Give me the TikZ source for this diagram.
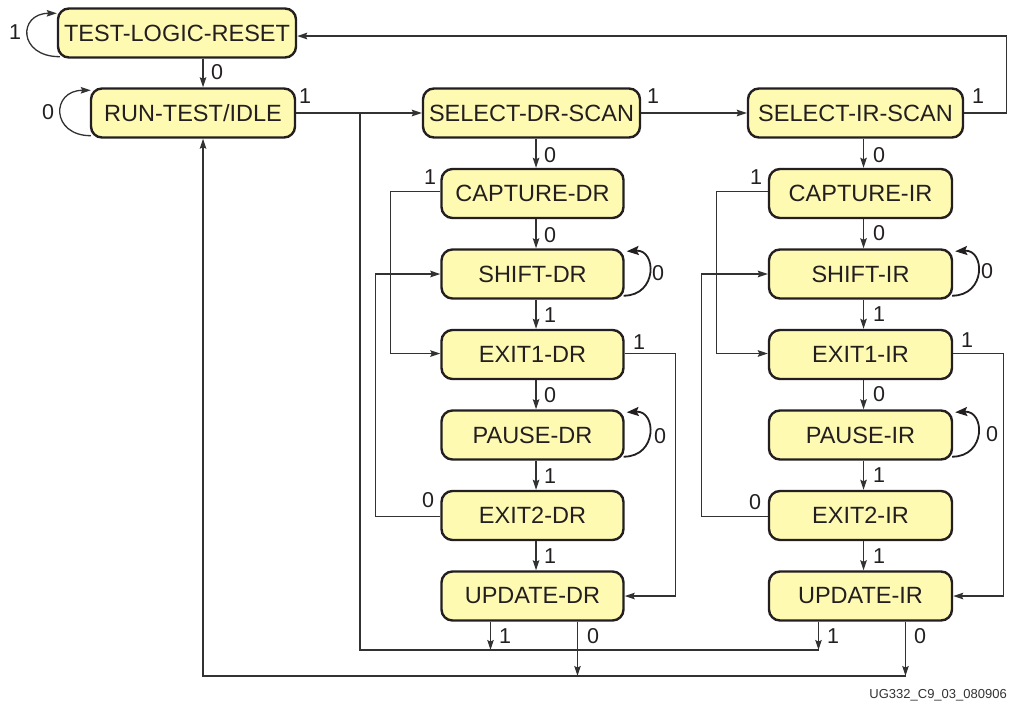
\documentclass[tikz,border=0pt]{standalone}
\usepackage{fontspec}
\setmainfont{Liberation Sans}
\usetikzlibrary{arrows.meta}
\definecolor{boxfill}{RGB}{255,250,178}
\definecolor{ink}{RGB}{35,31,32}
\definecolor{wirec}{RGB}{50,50,50}
\begin{document}
\begin{tikzpicture}[x=1pt,y=-1pt,
 state/.style={draw=ink, line width=2.4pt, fill=boxfill, rounded corners=11pt, minimum height=49pt, inner sep=0pt, font=\fontsize{23.5}{27}\selectfont, text=ink},
 wire/.style={draw=wirec, line width=1.3pt},
 arr/.style={wire, -{Stealth[length=10pt,width=6.5pt,inset=1.5pt]}},
 looparr/.style={draw=ink, line width=1.8pt, -{Stealth[length=12pt,width=9pt,inset=2pt]}},
 lbl/.style={font=\fontsize{21.5}{24}\selectfont, text=ink, inner sep=0pt},
]
\useasboundingbox (0,0) rectangle (1010,704);

% states
\node[state, minimum width=238pt] (TLR) at (177,33) {TEST-LOGIC-RESET};
\node[state, minimum width=204pt] (RTI) at (193,113) {RUN-TEST/IDLE};
\node[state, minimum width=217pt] (SDR) at (531.5,113) {SELECT-DR-SCAN};
\node[state, minimum width=215pt] (SIR) at (855.5,113) {SELECT-IR-SCAN};

\node[state, minimum width=182pt] (CDR)  at (532.5,193.5) {CAPTURE-DR};
\node[state, minimum width=182pt] (SHDR) at (532.5,274)   {SHIFT-DR};
\node[state, minimum width=182pt] (E1DR) at (532.5,354.5) {EXIT1-DR};
\node[state, minimum width=182pt] (PDR)  at (532.5,435)   {PAUSE-DR};
\node[state, minimum width=182pt] (E2DR) at (532.5,515.5) {EXIT2-DR};
\node[state, minimum width=182pt] (UDR)  at (532.5,596)   {UPDATE-DR};

\node[state, minimum width=183pt] (CIR)  at (860.5,193.5) {CAPTURE-IR};
\node[state, minimum width=183pt] (SHIR) at (860.5,274)   {SHIFT-IR};
\node[state, minimum width=183pt] (E1IR) at (860.5,354.5) {EXIT1-IR};
\node[state, minimum width=183pt] (PIR)  at (860.5,435)   {PAUSE-IR};
\node[state, minimum width=183pt] (E2IR) at (860.5,515.5) {EXIT2-IR};
\node[state, minimum width=183pt] (UIR)  at (860.5,596)   {UPDATE-IR};

% self loops on the left
\draw[arr] ([xshift=3pt,yshift=2pt]TLR.south west) .. controls +(-42,0) and +(-39,0) .. ([yshift=-6pt]TLR.north west);
\draw[arr] ([xshift=1pt,yshift=3pt]RTI.south west) .. controls +(-40,0) and +(-40,0) .. ([xshift=1pt,yshift=-3pt]RTI.north west);

% self loops on the right
\foreach \n in {SHDR,PDR,SHIR,PIR}{
  \draw[looparr] ([xshift=-1pt,yshift=4pt]\n.south east) .. controls +(34,0) and +(30,-2) .. ([xshift=2pt,yshift=-3pt]\n.north east);
}

% top connections
\draw[arr] ([xshift=26pt]TLR.south) -- ([xshift=26pt]TLR.south |- RTI.north);
\draw[arr] (RTI.east) -- (SDR.west);
\draw[arr] (SDR.east) -- (SIR.west);
\draw[arr] (SIR.east) -- ++(42,0) |- ([yshift=-3pt]TLR.east);

% column arrows
\draw[arr] ([xshift=3.5pt]CDR.north |- SDR.south) -- ([xshift=3.5pt]CDR.north);
\draw[arr] ([xshift=3pt]CIR.north |- SIR.south) -- ([xshift=3pt]CIR.north);
\foreach \a/\b in {CDR/SHDR,SHDR/E1DR,E1DR/PDR,PDR/E2DR,E2DR/UDR}{
  \draw[arr] ([xshift=3.5pt]\a.south) -- ([xshift=3.5pt]\b.north);
}
\foreach \a/\b in {CIR/SHIR,SHIR/E1IR,E1IR/PIR,PIR/E2IR,E2IR/UIR}{
  \draw[arr] ([xshift=3pt]\a.south) -- ([xshift=3pt]\b.north);
}

% side connections
\draw[arr] ([yshift=2pt]CDR.west) -- ++(-50,0) |- ([yshift=1pt]E1DR.west);
\draw[arr] ([yshift=-1pt]E2DR.west) -- ++(-65,0) |- (SHDR.west);
\draw[arr] ([yshift=1pt]E1DR.east) -- ++(51,0) |- (UDR.east);
\draw[arr] ([yshift=2pt]CIR.west) -- ++(-51,0) |- ([yshift=1pt]E1IR.west);
\draw[arr] ([yshift=-1pt]E2IR.west) -- ++(-66,0) |- (SHIR.west);
\draw[arr] ([yshift=1pt]E1IR.east) -- ++(50,0) |- (UIR.east);

% return buses
\coordinate (j1) at (360,113);
\coordinate (b1) at (360,650);
\coordinate (b0) at (203,676);
\draw[wire] (j1) -- (b1) -- ([xshift=-42pt]UIR.south |- b1);
\draw[arr] ([xshift=-42pt]UDR.south) -- ([xshift=-42pt]UDR.south |- b1);
\draw[arr] ([xshift=-42pt]UIR.south) -- ([xshift=-42pt]UIR.south |- b1);
\draw[arr] ([xshift=45pt]UDR.south) -- ([xshift=45pt]UDR.south |- b0);
\draw[arr] ([xshift=45pt]UIR.south) -- ([xshift=45pt]UIR.south |- b0);
\draw[arr] ([xshift=45pt]UIR.south |- b0) -- (b0) -- (b0 |- RTI.south);

% labels
\node[lbl] (l1) at (15,32) {1};
\node[lbl] (l2) at (48,112) {0};
\node[lbl] (l3) at (217,72) {0};
\node[lbl] (l4) at (305,96) {1};
\node[lbl] (l5) at (653,96) {1};
\node[lbl] (l6) at (978,96) {1};

\node[lbl] at (550,155) {0};
\node[lbl] at (550,235) {0};
\node[lbl] at (550,315) {1};
\node[lbl] at (550,395) {0};
\node[lbl] at (550,476) {1};
\node[lbl] at (550,556) {1};

\node[lbl] at (879,155) {0};
\node[lbl] at (879,233) {0};
\node[lbl] at (879,314) {1};
\node[lbl] at (879,394) {0};
\node[lbl] at (879,475) {1};
\node[lbl] at (879,556) {1};

\node[lbl] at (430,177) {1};
\node[lbl] at (756,177) {1};
\node[lbl] at (428,500) {0};
\node[lbl] at (755,502) {0};
\node[lbl] at (639,342) {1};
\node[lbl] at (967,340) {1};
\node[lbl] at (658,273) {0};
\node[lbl] at (660,436) {0};
\node[lbl] at (987,271) {0};
\node[lbl] at (992,434) {0};

\node[lbl] at (505,636) {1};
\node[lbl] at (593,636) {0};
\node[lbl] at (833,636) {1};
\node[lbl] at (920,636) {0};

\node[anchor=east, font=\fontsize{13}{15}\selectfont, text=wirec, inner sep=0pt] (fig) at (1007,695) {UG332\_C9\_03\_080906};
\end{tikzpicture}
\end{document}
